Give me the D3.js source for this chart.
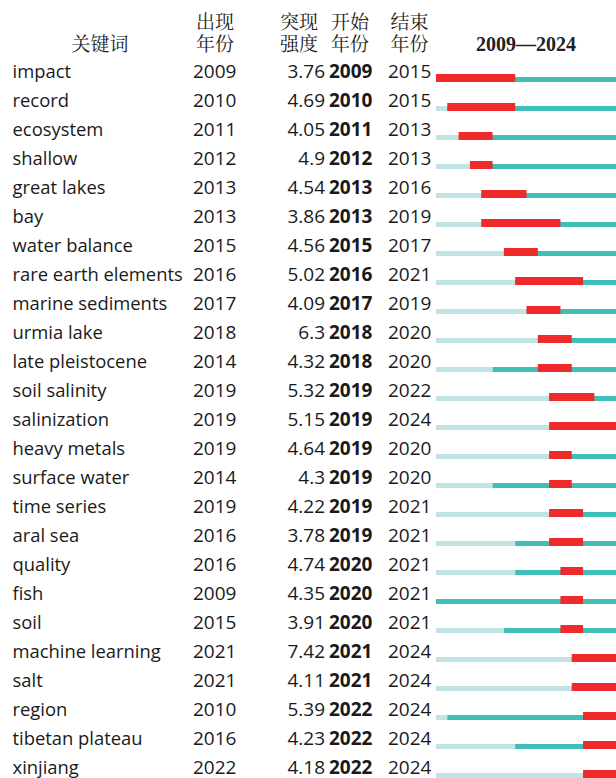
<!DOCTYPE html>
<html>
<head>
<meta charset="utf-8">
<script src="https://cdn.jsdelivr.net/npm/d3@7"></script>
<style>
  body { margin: 0; background: #fff; }
  svg { display: block; }
</style>
</head>
<body>
<div id="chart"></div>
<script>
var width = 616,
    height = 778;

// data
var keywords = ["impact", "record", "ecosystem", "shallow", "great lakes", "bay", "water balance",
  "rare earth elements", "marine sediments", "urmia lake", "late pleistocene", "soil salinity",
  "salinization", "heavy metals", "surface water", "time series", "aral sea", "quality", "fish",
  "soil", "machine learning", "salt", "region", "tibetan plateau", "xinjiang"];
var appearYears = [2009, 2010, 2011, 2012, 2013, 2013, 2015, 2016, 2017, 2018, 2014, 2019, 2019,
  2019, 2014, 2019, 2016, 2016, 2009, 2015, 2021, 2021, 2010, 2016, 2022];
var strengths = [3.76, 4.69, 4.05, 4.9, 4.54, 3.86, 4.56, 5.02, 4.09, 6.3, 4.32, 5.32, 5.15,
  4.64, 4.3, 4.22, 3.78, 4.74, 4.35, 3.91, 7.42, 4.11, 5.39, 4.23, 4.18];
var beginYears = [2009, 2010, 2011, 2012, 2013, 2013, 2015, 2016, 2017, 2018, 2018, 2019, 2019,
  2019, 2019, 2019, 2019, 2020, 2020, 2020, 2021, 2021, 2022, 2022, 2022];
var endYears = [2015, 2015, 2013, 2013, 2016, 2019, 2017, 2021, 2019, 2020, 2020, 2022, 2024,
  2020, 2020, 2021, 2021, 2021, 2021, 2021, 2024, 2024, 2024, 2024, 2024];
var firstYear = 2009, lastYear = 2024;

var rows = keywords.map(function(k, i) {
  return { key: k, appear: appearYears[i], strength: strengths[i], begin: beginYears[i], end: endYears[i] };
});

var svg = d3.select("#chart").append("svg")
    .attr("width", width)
    .attr("height", height);

var sans = "'Open Sans', 'Noto Sans', sans-serif";
var cjk = "'Noto Serif CJK SC', 'Noto Sans CJK SC', serif";

var y = d3.scaleBand()
    .domain(d3.range(rows.length))
    .range([58, 58 + 29 * rows.length]);

var x = d3.scaleLinear()
    .domain([firstYear, lastYear + 1])
    .range([436, 617]);

// header
var header = svg.append("g").attr("fill", "#222").attr("font-family", cjk).attr("font-size", 19);
header.append("text").attr("x", 100).attr("y", 51).attr("text-anchor", "middle").text("关键词");
var heads = [["出现", "年份", 215], ["突现", "强度", 299], ["开始", "年份", 350], ["结束", "年份", 409.5]];
heads.forEach(function(h) {
  header.append("text").attr("x", h[2]).attr("y", 29).attr("text-anchor", "middle").text(h[0]);
  header.append("text").attr("x", h[2]).attr("y", 51).attr("text-anchor", "middle").text(h[1]);
});
svg.append("text")
    .attr("x", 526).attr("y", 51)
    .attr("text-anchor", "middle")
    .attr("font-family", "'Liberation Serif', 'Times New Roman', serif")
    .attr("font-weight", "bold")
    .attr("font-size", 20)
    .attr("fill", "#222")
    .text(firstYear + "\u2014" + lastYear);

var row = svg.selectAll(".row")
    .data(rows)
    .enter().append("g")
    .attr("class", "row")
    .attr("transform", function(d, i) { return "translate(0," + y(i) + ")"; })
    .attr("font-family", sans)
    .attr("font-size", 19)
    .attr("fill", "#1a1a1a");

var base = 20; // text baseline inside a row

row.append("text").attr("x", 12.5).attr("y", base).attr("font-size", 18.4)
    .text(function(d) { return d.key; });
row.append("text").attr("x", 193).attr("y", base)
    .text(function(d) { return d.appear; });
row.append("text").attr("x", 325).attr("y", base).attr("text-anchor", "end")
    .text(function(d) { return String(d.strength); });
row.append("text").attr("x", 329).attr("y", base).attr("font-weight", "bold")
    .text(function(d) { return d.begin; });
row.append("text").attr("x", 388).attr("y", base)
    .text(function(d) { return d.end; });

// bars
var barBottom = 24;

// light part, before the keyword appears
row.append("rect")
    .attr("x", x(firstYear))
    .attr("y", barBottom - 5)
    .attr("width", function(d) { return x(d.appear) - x(firstYear); })
    .attr("height", 5)
    .attr("fill", "#c2e4e4");

// teal part, from appearance on
row.append("rect")
    .attr("x", function(d) { return x(d.appear); })
    .attr("y", barBottom - 5)
    .attr("width", function(d) { return x(lastYear + 1) - x(d.appear); })
    .attr("height", 5)
    .attr("fill", "#40bfb8");

// burst
row.append("rect")
    .attr("x", function(d) { return x(d.begin); })
    .attr("y", barBottom - 8)
    .attr("width", function(d) { return x(d.end + 1) - x(d.begin); })
    .attr("height", 8)
    .attr("fill", "#ee2a2a");
</script>
</body>
</html>
